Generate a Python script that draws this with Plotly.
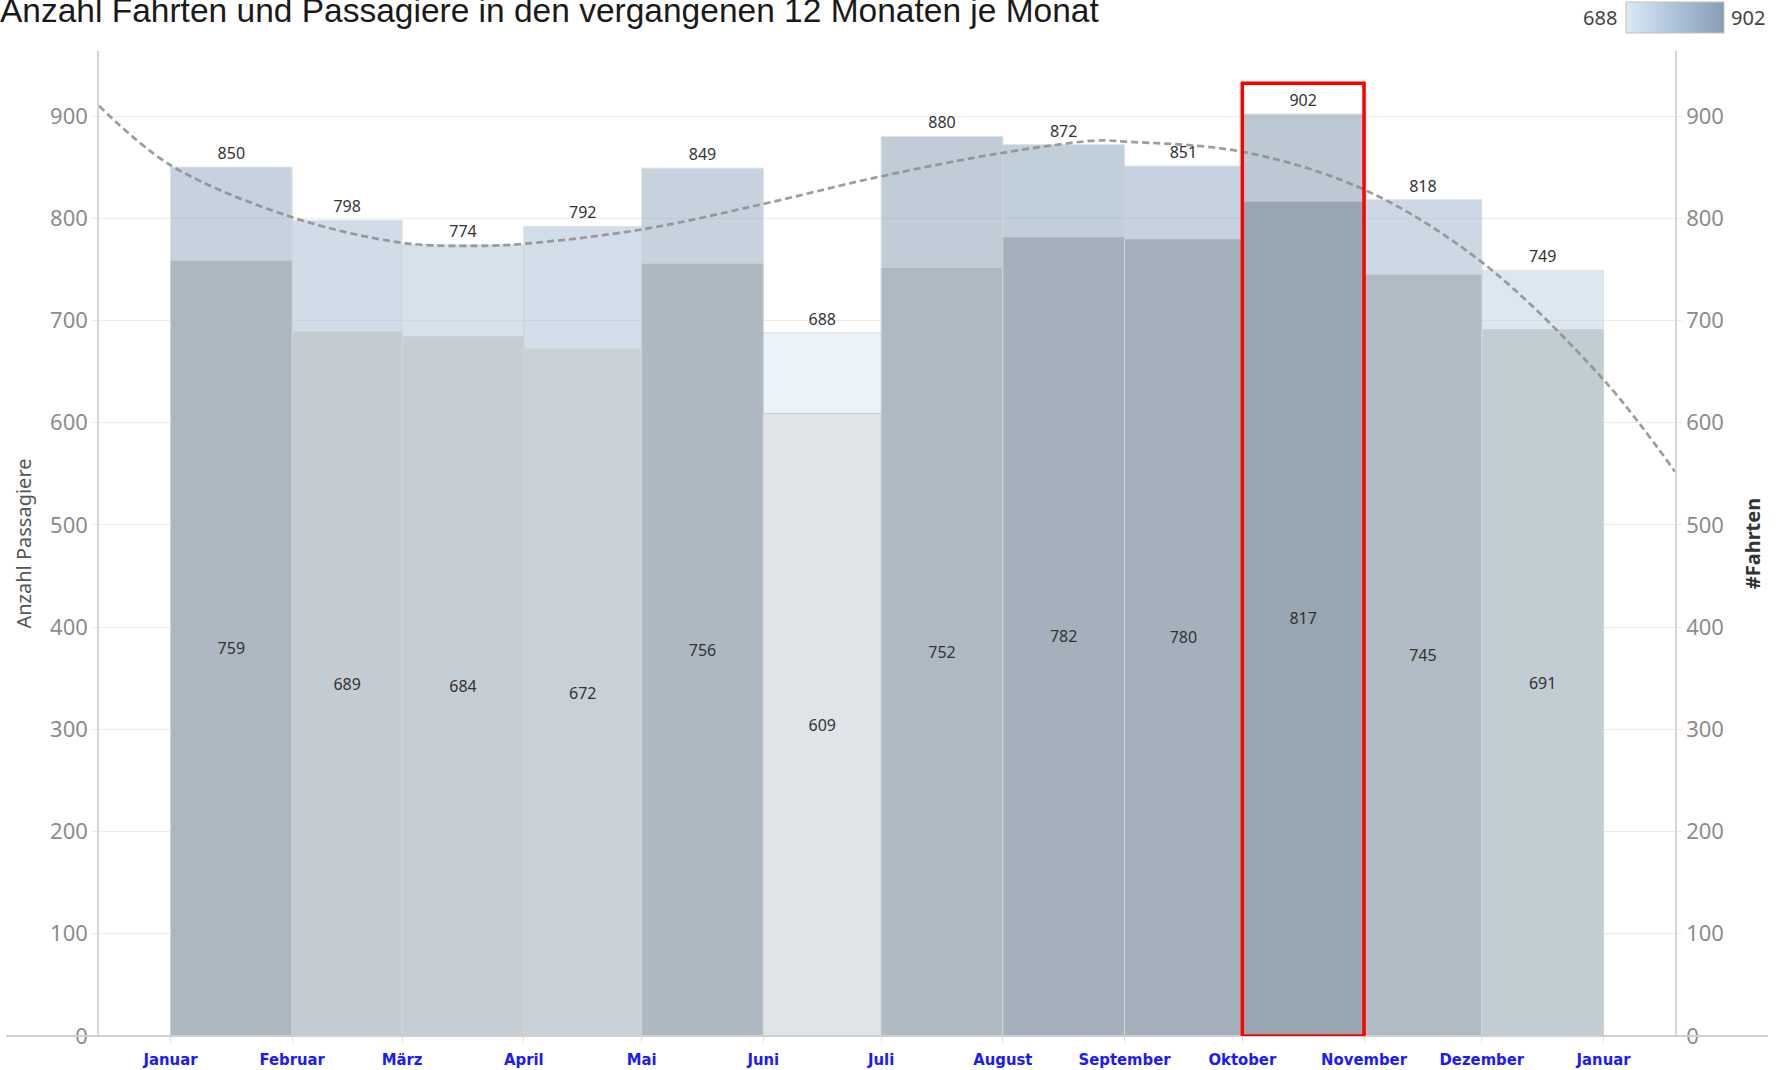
import pandas as pd
import plotly.graph_objects as go

# ---------------- data ----------------
month_bounds = ["2023-01-01", "2023-02-01", "2023-03-01", "2023-04-01", "2023-05-01",
                "2023-06-01", "2023-07-01", "2023-08-01", "2023-09-01", "2023-10-01",
                "2023-11-01", "2023-12-01", "2024-01-01"]
month_labels = ["Januar", "Februar", "März", "April", "Mai", "Juni", "Juli", "August",
                "September", "Oktober", "November", "Dezember", "Januar"]
fahrten = [850, 798, 774, 792, 849, 688, 880, 872, 851, 902, 818, 749]
passagiere = [759, 689, 684, 672, 756, 609, 752, 782, 780, 817, 745, 691]

trend_dates = ["2022-12-13 19:12", "2023-01-01", "2023-02-01", "2023-03-01", "2023-03-20",
               "2023-04-01", "2023-05-01", "2023-06-01", "2023-07-01", "2023-08-01",
               "2023-08-25", "2023-09-01", "2023-10-01", "2023-11-01", "2023-12-01",
               "2024-01-01", "2024-01-19 04:48"]
trend_values = [910, 852, 801, 776, 773, 775, 789, 814, 841, 864, 876, 875, 865, 828,
                757, 642, 552]

x_range = ["2022-12-13 19:12", "2024-01-19 04:48"]
y_range = [0, 963.6]
y_ticks = [0, 100, 200, 300, 400, 500, 600, 700, 800, 900]

# ---------------- derived ----------------
bounds = pd.to_datetime(month_bounds)
starts = [b.strftime("%Y-%m-%d") for b in bounds[:-1]]
widths = [(bounds[i + 1] - bounds[i]).total_seconds() * 1000 for i in range(len(bounds) - 1)]
upper = [f - p for f, p in zip(fahrten, passagiere)]
imax = fahrten.index(max(fahrten))

legend_scale = [[0, "#dbeaf6"], [0.5, "#abc3d8"], [1, "#869db4"]]
inner_scale = [[0, "#dee4e8"], [1, "#98a6b2"]]

fig = go.Figure()

# Passagiere (inner bars)
fig.add_trace(go.Bar(
    x=starts, y=passagiere, width=widths, offset=0, yaxis="y",
    marker=dict(color=passagiere, colorscale=inner_scale,
                cmin=min(passagiere), cmax=max(passagiere),
                line=dict(color="#d4d4d4", width=1)),
    text=passagiere, textposition="inside", insidetextanchor="middle",
    textangle=0, constraintext="none",
    insidetextfont=dict(family="Noto Sans", size=16, color="#333333"),
    hoverinfo="skip", showlegend=False,
))

# Fahrten (outer bars, drawn above the passenger part)
fig.add_trace(go.Bar(
    x=starts, y=upper, base=passagiere, width=widths, offset=0, yaxis="y2",
    marker=dict(color=fahrten, colorscale=legend_scale,
                cmin=min(fahrten), cmax=max(fahrten), opacity=0.55,
                line=dict(color="#c8c8c8", width=1),
                showscale=True,
                colorbar=dict(orientation="h", thickness=31, thicknessmode="pixels",
                              len=98, lenmode="pixels", x=1.0, xanchor="center",
                              y=1.034, yanchor="middle", xpad=0, ypad=0,
                              outlinewidth=1, outlinecolor="#c9c2ad",
                              ticks="", showticklabels=False)),
    text=fahrten, textposition="outside", cliponaxis=False,
    outsidetextfont=dict(family="Noto Sans", size=16, color="#333333"),
    hoverinfo="skip", showlegend=False,
))

# Trend line
fig.add_trace(go.Scatter(
    x=trend_dates, y=trend_values, mode="lines", yaxis="y2",
    line=dict(shape="spline", dash="7px,4px", width=2.7, color="rgba(140,140,140,0.85)"),
    hoverinfo="skip", showlegend=False,
))

axis_font = dict(family="Noto Sans", size=22, color="#8c8c8c")

fig.update_layout(
    width=1781, height=1070,
    paper_bgcolor="white", plot_bgcolor="white",
    margin=dict(l=99, r=106, t=51, b=34, autoexpand=False),
    barmode="overlay",
    title=dict(text="Anzahl Fahrten und Passagiere in den vergangenen 12 Monaten je Monat",
               x=0, xref="container", xanchor="left",
               y=1 - 10.5 / 1070, yref="container", yanchor="middle",
               font=dict(family="Liberation Sans Narrow, Liberation Sans, Arial, sans-serif",
                         size=33.5, color="#1a1a1a")),
    xaxis=dict(type="date", range=x_range, tickvals=starts + [bounds[-1].strftime("%Y-%m-%d")],
               ticktext=month_labels, showgrid=False, zeroline=False, showline=False,
               ticks="outside", ticklen=6, tickcolor="#e2e2e2",
               ticklabelstandoff=2,
               tickfont=dict(family="DejaVu Sans Condensed, Liberation Sans Narrow",
                             size=16.5, color="#1a1aff", weight="bold")),
    yaxis=dict(range=y_range, tickvals=y_ticks, showgrid=True, gridcolor="#ececec",
               gridwidth=1, zeroline=False, showline=True, linecolor="#d6d6d6",
               linewidth=1.5, ticks="outside", ticklen=5, tickcolor="#ececec",
               tickfont=axis_font,
               title=dict(text="Anzahl Passagiere", standoff=13,
                          font=dict(family="Noto Sans", size=20, color="#555555"))),
    yaxis2=dict(range=y_range, tickvals=y_ticks, overlaying="y", side="right",
                showgrid=False, zeroline=False, showline=True, linecolor="#d6d6d6",
                linewidth=1.5, ticks="outside", ticklen=5, tickcolor="#ececec",
                tickfont=axis_font,
                title=dict(text="#Fahrten", standoff=23,
                           font=dict(family="Noto Sans", size=20, color="#333333",
                                     weight="bold"))),
    shapes=[
        dict(type="line", xref="paper", yref="paper", x0=-0.059, x1=1.059, y0=0, y1=0,
             line=dict(color="#cfcfcf", width=2), layer="above"),
        dict(type="rect", xref="x", yref="y", x0=month_bounds[imax], x1=month_bounds[imax + 1],
             y0=0, y1=fahrten[imax] + 30, line=dict(color="#ff0000", width=3.5),
             fillcolor="rgba(0,0,0,0)", layer="above"),
    ],
    annotations=[
        dict(text=str(min(fahrten)), xref="paper", yref="paper", x=0.9645, y=1.034,
             xanchor="right", yanchor="middle", showarrow=False,
             font=dict(family="Noto Sans", size=20, color="#444444")),
        dict(text=str(max(fahrten)), xref="paper", yref="paper", x=1.0343, y=1.034,
             xanchor="left", yanchor="middle", showarrow=False,
             font=dict(family="Noto Sans", size=20, color="#444444")),
    ],
)

fig.write_html("out.html",
               config={"displayModeBar": False},
               post_script="document.body.style.margin='0px';"
                           "document.body.style.overflow='hidden';")
